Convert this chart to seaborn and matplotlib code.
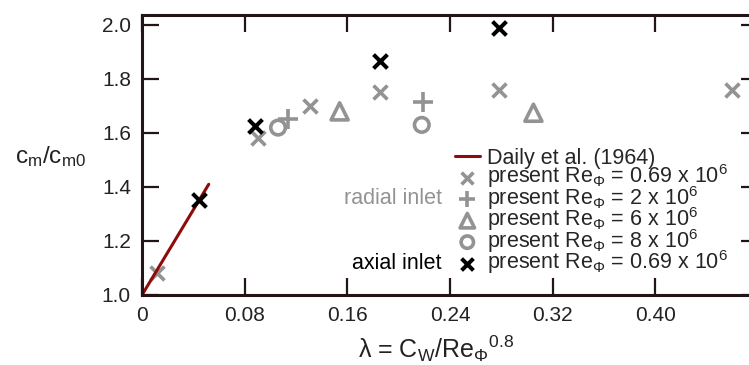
import matplotlib
matplotlib.use("Agg")
import matplotlib.pyplot as plt
import seaborn as sns
import pandas as pd

sns.set_theme(style="ticks")
plt.rcParams['font.family'] = ['Liberation Sans', 'DejaVu Sans']
plt.rcParams['mathtext.fontset'] = 'custom'
plt.rcParams['mathtext.rm'] = 'Liberation Sans'
plt.rcParams['mathtext.it'] = 'Liberation Sans'

# Daily et al. (1964) line
daily_x = [0.0, 0.052]
daily_y = [1.0, 1.41]

# radial inlet, Re = 0.69e6 (gray x)
r069_x = [0.012, 0.090, 0.131, 0.1855, 0.278, 0.46]
r069_y = [1.08, 1.58, 1.70, 1.75, 1.76, 1.76]
# radial inlet, Re = 2e6 (plus)
r2_x = [0.114, 0.219]
r2_y = [1.65, 1.715]
# radial inlet, Re = 6e6 (triangle)
r6_x = [0.154, 0.305]
r6_y = [1.68, 1.675]
# radial inlet, Re = 8e6 (circle)
r8_x = [0.106, 0.218]
r8_y = [1.62, 1.63]
# axial inlet, Re = 0.69e6 (black x)
a069_x = [0.0444, 0.088, 0.1855, 0.278]
a069_y = [1.35, 1.626, 1.867, 1.99]

xticks = [0, 0.08, 0.16, 0.24, 0.32, 0.40]
xticklabels = ["0", "0.08", "0.16", "0.24", "0.32", "0.40"]
yticks = [1.0, 1.2, 1.4, 1.6, 1.8, 2.0]

GRAY = "#939393"
DARK = "#231515"
FS = 15

fig = plt.figure(figsize=(7.49, 3.65), dpi=100)
ax = fig.add_axes([142/749, 70/365, 616/749, 280/365])

sns.lineplot(x=daily_x, y=daily_y, ax=ax, color="#8f0a0a", lw=2.2,
             label="Daily et al. (1964)")

lbl = r"present Re$_\Phi$ = {} x 10$^6$"
sns.scatterplot(x=r069_x, y=r069_y, ax=ax, marker="x", color=GRAY, s=100,
                linewidth=2.6, label=lbl.format("0.69"))
sns.scatterplot(x=r2_x, y=r2_y, ax=ax, marker="+", color=GRAY, s=190,
                linewidth=2.6, label=lbl.format("2"))
sns.scatterplot(x=r6_x, y=r6_y, ax=ax, marker="^", facecolor="none",
                edgecolor=GRAY, s=150, linewidth=2.6, label=lbl.format("6"))
sns.scatterplot(x=r8_x, y=r8_y, ax=ax, marker="o", facecolor="none",
                edgecolor=GRAY, s=110, linewidth=2.6, label=lbl.format("8"))
sns.scatterplot(x=a069_x, y=a069_y, ax=ax, marker="x", color="black", s=100,
                linewidth=2.9, label=lbl.format("0.69"), zorder=5)

ax.set_xlim(0, 0.48)
ax.set_ylim(1.0, 2.037)
ax.set_xticks(xticks)
ax.set_xticklabels(xticklabels)
ax.set_yticks(yticks)
ax.set_yticklabels([f"{v:.1f}" for v in yticks])
ax.tick_params(direction="in", length=12, width=1.6, color=DARK,
               labelsize=FS, top=True, right=True, pad=8, labelcolor="#222222")
for sp in ax.spines.values():
    sp.set_color(DARK)
    sp.set_linewidth(2.2)

ax.set_xlabel(r"λ = C$_W$/Re$_\Phi$$^{0.8}$", fontsize=18, color="#222222",
              va="center")
ax.xaxis.set_label_coords(0.477, -0.19)
ax.set_ylabel(r"c$_m$/c$_{m0}$", fontsize=17.5, rotation=0, color="#222222",
              ha="center", va="center")
ax.yaxis.set_label_coords(-0.149, 0.493)

ax.text(0.487, 0.346, "radial inlet", transform=ax.transAxes, ha="right",
        va="center", fontsize=15.5, color=GRAY)
ax.text(0.487, 0.114, "axial inlet", transform=ax.transAxes, ha="right",
        va="center", fontsize=15.5, color="black")

ax.legend(loc="upper left", bbox_to_anchor=(0.508, 0.525), frameon=False,
          fontsize=15.5, handlelength=1.15, handletextpad=0.35,
          labelspacing=-0.3, borderpad=0, borderaxespad=0, markerscale=0.85)

fig.savefig("out.png", dpi=100)
